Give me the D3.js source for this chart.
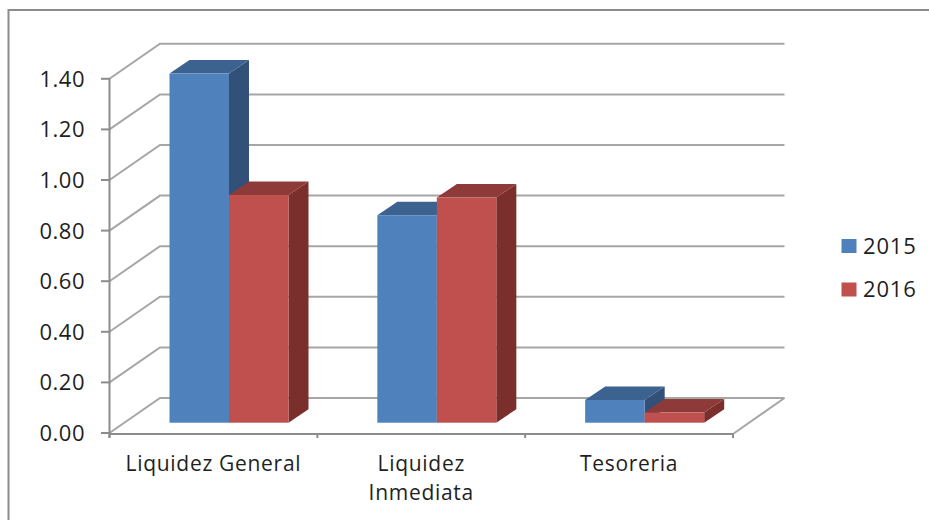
<!DOCTYPE html>
<html>
<head>
<meta charset="utf-8">
<script src="https://cdn.jsdelivr.net/npm/d3@7/dist/d3.min.js"></script>
<style>
html,body{margin:0;padding:0;background:#fff;}
svg{display:block;}
text{font-family:"Open Sans",sans-serif;fill:#1f1f1f;}
</style>
</head>
<body>
<svg id="chart" width="929" height="520"></svg>
<script>
// Liquidity ratios per year, drawn as a clustered column chart with a 3D look.
const categories = [["Liquidez General"], ["Liquidez", "Inmediata"], ["Tesoreria"]];
const seriesNames = ["2015", "2016"];
const values2015 = [1.38, 0.82, 0.09];
const values2016 = [0.90, 0.89, 0.04];
const yTicks = [0, 0.2, 0.4, 0.6, 0.8, 1.0, 1.2, 1.4];

const palette = [
  {front: "#4f81bd", top: "#3c6290", side: "#325078"},
  {front: "#c0504d", top: "#8e3a38", side: "#7a2f2d"}
];

const svg = d3.select("#chart");

const x = d3.scaleBand().domain(d3.range(categories.length)).range([109.5, 733]).padding(0);
const y = d3.scaleLinear().domain([0, 1.4]).range([433, 78.8]);

// Depth of the chart box, and of the columns inside it.
const wallDx = 50.5, wallDy = -35;
const barInsetX = 60, barBaseDy = -10.3;
const barW = 59.5, barDx = 20, barDy = -13.5;

// Frame: only the left and top edges fall inside the page.
svg.append("path").attr("d", "M8.5,520V10H929")
  .attr("fill", "none").attr("stroke", "#8c8c8c").attr("stroke-width", 2);

const grid = svg.append("g").attr("fill", "none").attr("stroke", "#a6a6a6").attr("stroke-width", 2);

// Gridlines on the back wall, continuing down the side wall to the value axis.
yTicks.forEach(t => {
  const p = d3.path();
  p.moveTo(x.range()[0], y(t));
  p.lineTo(x.range()[0] + wallDx, y(t) + wallDy);
  p.lineTo(x.range()[1] + wallDx + 1, y(t) + wallDy);
  grid.append("path").attr("d", p.toString());
});

// Right edge of the floor
const floor = d3.path();
floor.moveTo(x.range()[1], y(0) + 1);
floor.lineTo(x.range()[1] + wallDx + 1, y(0) + wallDy);
grid.append("path").attr("d", floor.toString());

// Value axis
const yAxis = svg.append("g");
yAxis.append("line").attr("x1", 109.5).attr("x2", 109.5).attr("y1", y(1.4)).attr("y2", y(0) + 5)
  .attr("stroke", "#8c8c8c").attr("stroke-width", 2);
yTicks.forEach(t => {
  yAxis.append("line").attr("x1", 101).attr("x2", 110).attr("y1", y(t)).attr("y2", y(t))
    .attr("stroke", "#8c8c8c").attr("stroke-width", 2);
  yAxis.append("text").attr("x", 85).attr("y", y(t)).attr("dy", "0.36em")
    .attr("text-anchor", "end").attr("font-size", 22).attr("letter-spacing", 0.5)
    .text(d3.format(".2f")(t));
});

// Category axis
const xAxis = svg.append("g");
xAxis.append("line").attr("x1", x.range()[0]).attr("x2", x.range()[1]).attr("y1", y(0) + 1).attr("y2", y(0) + 1)
  .attr("stroke", "#8c8c8c").attr("stroke-width", 2);
d3.range(categories.length + 1).forEach(i => {
  const tx = x.range()[0] + i * x.step();
  xAxis.append("line").attr("x1", tx).attr("x2", tx).attr("y1", y(0) + 1).attr("y2", y(0) + 5)
    .attr("stroke", "#8c8c8c").attr("stroke-width", 2);
});
categories.forEach((lines, i) => {
  lines.forEach((line, k) => {
    xAxis.append("text").attr("x", x(i) + x.bandwidth() / 2).attr("y", 471 + k * 29)
      .attr("text-anchor", "middle").attr("font-size", 21).attr("letter-spacing", 0.7)
      .text(line);
  });
});

// One column: side face, top face, then the front face.
function column(i, s, v) {
  const c = palette[s];
  const x0 = x(i) + barInsetX + s * barW, x1 = x0 + barW;
  const yTop = y(v) + barBaseDy, yBase = y(0) + barBaseDy;
  const g = svg.append("g");
  g.append("path").attr("fill", c.side).attr("d", d3.line()([
    [x1, yTop], [x1 + barDx, yTop + barDy], [x1 + barDx, yBase + barDy], [x1, yBase]
  ]) + "Z");
  g.append("path").attr("fill", c.top).attr("d", d3.line()([
    [x0, yTop], [x0 + barDx, yTop + barDy], [x1 + barDx, yTop + barDy], [x1, yTop]
  ]) + "Z");
  g.append("rect").attr("x", x0).attr("y", yTop).attr("width", barW).attr("height", yBase - yTop)
    .attr("fill", c.front);
}
categories.forEach((_, i) => {
  column(i, 0, values2015[i]);
  column(i, 1, values2016[i]);
});

// Legend
seriesNames.forEach((name, s) => {
  const ly = 246 + s * 43.5;
  svg.append("rect").attr("x", 841.5).attr("y", ly - 7).attr("width", 15).attr("height", 14)
    .attr("fill", palette[s].front);
  svg.append("text").attr("x", 863).attr("y", ly).attr("dy", "0.36em")
    .attr("font-size", 22).attr("letter-spacing", 0.8).text(name);
});
</script>
</body>
</html>
